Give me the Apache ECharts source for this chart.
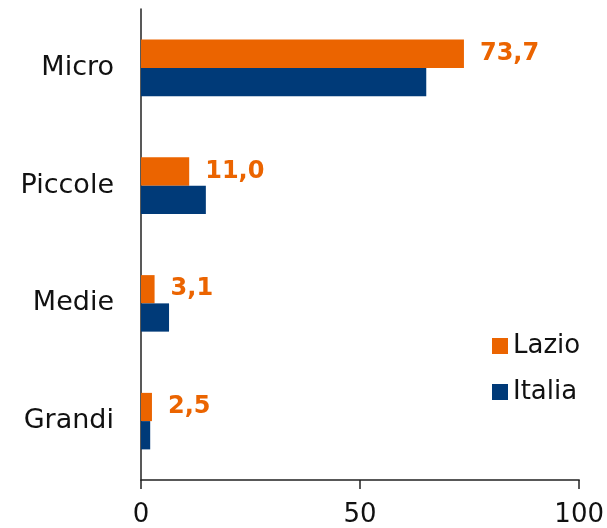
<!DOCTYPE html>
<html>
<head>
<meta charset="utf-8">
<script src="https://cdn.jsdelivr.net/npm/echarts@6/dist/echarts.min.js"></script>
<style>
  html, body { margin: 0; padding: 0; background: #fff; }
  #chart { width: 607px; height: 528px; }
</style>
</head>
<body>
<div id="chart"></div>
<script>
const categories = ["Micro", "Piccole", "Medie", "Grandi"];
const lazio = [73.7, 11.0, 3.1, 2.5];
const italia = [65.1, 14.8, 6.4, 2.1];
const xTicks = [0, 50, 100];

const font = "DejaVu Sans";
const chart = echarts.init(document.getElementById("chart"));

chart.setOption({
  animation: false,
  grid: { left: 141, right: 25, top: 9, bottom: 48 },
  legend: {
    orient: "vertical",
    left: 492, top: 333, padding: 0,
    itemWidth: 16, itemHeight: 16, itemGap: 20, itemTextGap: 6,
    icon: "rect",
    textStyle: { fontFamily: font, fontSize: 26, color: "#111" },
    data: ["Lazio", "Italia"]
  },
  xAxis: {
    type: "value",
    min: xTicks[0], max: xTicks[xTicks.length - 1], interval: 50,
    splitLine: { show: false },
    axisLine: { show: true, lineStyle: { color: "#222", width: 1.5 } },
    axisTick: { show: true, length: 9, lineStyle: { color: "#222", width: 1.5 } },
    axisLabel: { margin: 22, fontFamily: font, fontSize: 26, color: "#111" }
  },
  yAxis: {
    type: "category",
    inverse: true,
    data: categories,
    axisLine: { show: true, lineStyle: { color: "#222", width: 1.5 } },
    axisTick: { show: false },
    axisLabel: { margin: 27, fontFamily: font, fontSize: 27, color: "#111" }
  },
  series: [
    {
      name: "Lazio", type: "bar", data: lazio,
      barGap: "0%", barCategoryGap: "52%",
      itemStyle: { color: "#EB6400" },
      label: {
        show: true, position: "right", distance: 16,
        fontFamily: font, fontSize: 24, fontWeight: "bold", color: "#EB6400",
        formatter: p => p.value.toFixed(1).replace(".", ",")
      }
    },
    {
      name: "Italia", type: "bar", data: italia,
      barGap: "0%", barCategoryGap: "52%",
      itemStyle: { color: "#003A78" }
    }
  ]
});

window.addEventListener("resize", () => chart.resize());
</script>
</body>
</html>
